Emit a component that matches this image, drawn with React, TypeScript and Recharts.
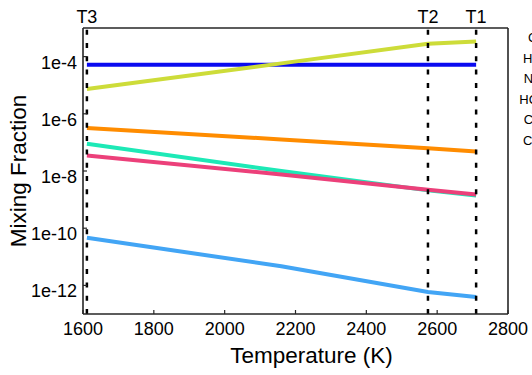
import React from 'react';
import { LineChart, Line, XAxis, YAxis, ReferenceLine, Label } from 'recharts';

// temperatures where the profiles were sampled (K)
const temperatures = [1611, 2160, 2574, 2710];

// mixing fractions for each species
const coValues = [7.4e-6, 5.8e-5, 2.8e-4, 3.4e-4];
const h2oValues = [5.2e-5, 5.2e-5, 5.2e-5, 5.2e-5];
const nh3Values = [3.2e-7, 1.27e-7, 6.3e-8, 4.8e-8];
const hcnValues = [8.9e-8, 1.0e-8, 2.1e-9, 1.4e-9];
const ch4Values = [3.5e-8, 7.6e-9, 2.2e-9, 1.5e-9];
const co2Values = [4.6e-11, 4.7e-12, 5.9e-13, 3.9e-13];

const xTicks = [1600, 1800, 2000, 2200, 2400, 2600, 2800];
const yTicks = [1e-12, 1e-10, 1e-8, 1e-6, 1e-4];
const xDomain = [1600, 2800];
const yDomain = [1e-13, 1e-3];

const markerNames = ['T3', 'T2', 'T1'];
const markerTemps = [1611, 2574, 2710];

const legendNames = [
  ['CO', '', ''],
  ['H', '2', 'O'],
  ['NH', '3', ''],
  ['HCN', '', ''],
  ['CH', '4', ''],
  ['CO', '2', ''],
];

const series = [
  { key: 'h2o', color: '#0a0af0' },
  { key: 'co', color: '#cddc39' },
  { key: 'nh3', color: '#ff8c00' },
  { key: 'hcn', color: '#1de9b6' },
  { key: 'ch4', color: '#ec407a' },
  { key: 'co2', color: '#42a5f5' },
];

const chartData = temperatures.map((t, i) => ({
  t,
  co: coValues[i],
  h2o: h2oValues[i],
  nh3: nh3Values[i],
  hcn: hcnValues[i],
  ch4: ch4Values[i],
  co2: co2Values[i],
}));

const AXIS = '#262626';
const FONT = '"Liberation Sans", Arial, Helvetica, sans-serif';

const XTick = (props: any) => {
  const { x, y, payload } = props;
  return (
    <text x={x} y={y + 25} textAnchor="middle" fontSize={18} fill="#000">
      {payload.value}
    </text>
  );
};

const YTick = (props: any) => {
  const { x, y, payload } = props;
  const exp = Math.round(Math.log10(payload.value));
  return (
    <text x={x - 10} y={y + 12} textAnchor="end" fontSize={18} fill="#000">
      {`1e${exp}`}
    </text>
  );
};

const renderXLabel = (props: any) => {
  const { viewBox } = props;
  return (
    <text x={viewBox.x + viewBox.width / 2 + 16} y={363} textAnchor="middle" fontSize={22.5} fill="#000">
      Temperature (K)
    </text>
  );
};

const renderYLabel = (props: any) => {
  const { viewBox } = props;
  const cx = 26;
  const cy = viewBox.y + viewBox.height / 2;
  return (
    <text x={cx} y={cy} transform={`rotate(-90, ${cx}, ${cy})`} textAnchor="middle" fontSize={22.5} fill="#000">
      Mixing Fraction
    </text>
  );
};

// legend sits mostly past the right edge of the figure, as in the original
const renderLegend = (props: any) => {
  const { viewBox } = props;
  const right = viewBox.x + 39.5;
  return (
    <g>
      {legendNames.map((parts, i) => (
        <text key={i} x={right} y={37.5 + i * 20.5 + 4.5} textAnchor="end" fontSize={13} fill="#000">
          {parts[0]}
          {parts[1] && <tspan fontSize={9} dy={3}>{parts[1]}</tspan>}
          {parts[2] && <tspan dy={-3}>{parts[2]}</tspan>}
        </text>
      ))}
    </g>
  );
};

const App: React.FC = () => {
  return (
    <div style={{ position: 'absolute', left: 0, top: 0, width: 532, height: 375, background: '#fff', fontFamily: FONT }}>
      <LineChart width={532} height={375} data={chartData} margin={{ top: 0, right: 0, bottom: 0, left: 0 }}>
        <XAxis
          xAxisId="b"
          dataKey="t"
          type="number"
          domain={xDomain}
          ticks={xTicks}
          interval={0}
          height={61}
          tickSize={-4}
          tickMargin={0}
          axisLine={{ stroke: AXIS, strokeWidth: 1.6 }}
          tickLine={{ stroke: AXIS, strokeWidth: 1.2 }}
          tick={<XTick />}
          allowDataOverflow
        >
          <Label content={renderXLabel} />
        </XAxis>
        <XAxis
          xAxisId="t"
          orientation="top"
          dataKey="t"
          type="number"
          domain={xDomain}
          ticks={xTicks}
          interval={0}
          height={28}
          tickSize={-4}
          axisLine={{ stroke: AXIS, strokeWidth: 1.6 }}
          tickLine={{ stroke: AXIS, strokeWidth: 1.2 }}
          tick={false}
          allowDataOverflow
        />
        <YAxis
          yAxisId="l"
          scale="log"
          type="number"
          domain={yDomain}
          ticks={yTicks}
          interval={0}
          width={83}
          tickSize={-4}
          tickMargin={0}
          axisLine={{ stroke: AXIS, strokeWidth: 1.6 }}
          tickLine={{ stroke: AXIS, strokeWidth: 1.2 }}
          tick={<YTick />}
          allowDataOverflow
        >
          <Label content={renderYLabel} />
        </YAxis>
        <YAxis
          yAxisId="r"
          orientation="right"
          scale="log"
          type="number"
          domain={yDomain}
          ticks={yTicks}
          interval={0}
          width={24}
          tickSize={-4}
          axisLine={{ stroke: AXIS, strokeWidth: 1.6 }}
          tickLine={{ stroke: AXIS, strokeWidth: 1.2 }}
          tick={false}
          allowDataOverflow
        >
          <Label content={renderLegend} />
        </YAxis>
        {series.map((s) => (
          <Line
            key={s.key}
            xAxisId="b"
            yAxisId="l"
            type="linear"
            dataKey={s.key}
            stroke={s.color}
            strokeWidth={4}
            dot={false}
            activeDot={false}
            isAnimationActive={false}
          />
        ))}
        {markerTemps.map((t, i) => (
          <ReferenceLine
            key={markerNames[i]}
            xAxisId="b"
            yAxisId="l"
            x={t}
            stroke="#000"
            strokeWidth={2.5}
            strokeDasharray="5 8.3"
            label={{ value: markerNames[i], position: 'top', offset: 5, fontSize: 18, fill: '#000' }}
          />
        ))}
      </LineChart>
    </div>
  );
};

export default App;
